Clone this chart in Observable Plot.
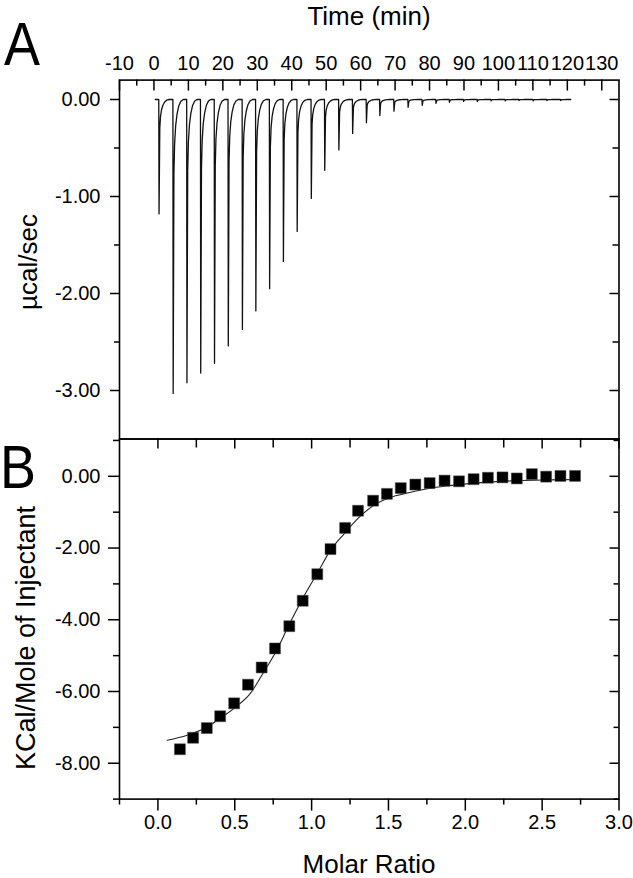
<!DOCTYPE html>
<html>
<head>
<meta charset="utf-8">
<script src="https://cdn.jsdelivr.net/npm/d3@7"></script>
<script src="https://cdn.jsdelivr.net/npm/@observablehq/plot@0.6"></script>
<style>
  html, body { margin: 0; padding: 0; background: #fff; }
  #wrap { position: relative; width: 633px; height: 878px; overflow: hidden; font-family: "Liberation Sans", Arial, sans-serif; color: #000; }
  #wrap svg { position: absolute; left: 0; }
  .lbl { position: absolute; white-space: nowrap; line-height: 1; transform: translate(-50%, -50%); }
</style>
</head>
<body>
<div id="wrap"></div>
<script>
// ---------- Panel A: raw ITC thermogram ----------
// injection times (min) and peak minima (µcal/sec)
const injTimes = [1.4, 5.5, 9.5, 13.5, 17.5, 21.5, 25.6, 29.5, 33.5, 37.5, 41.5, 45.6, 49.5, 53.6, 57.6,
                  61.6, 65.5, 69.6, 73.7, 77.8, 81.8, 85.7, 89.8, 93.8, 97.8, 101.9, 105.9, 110.0, 114.0, 118.0];
const peakMin = [-1.18, -3.03, -2.92, -2.82, -2.72, -2.54, -2.37, -2.18, -1.95, -1.67, -1.36, -1.02, -0.73, -0.52, -0.35,
                 -0.24, -0.165, -0.12, -0.08, -0.06, -0.04, -0.03, -0.02, -0.02, -0.015, -0.015, -0.01, -0.015, -0.01, -0.01];
// shape of one injection peak: time after injection (min), fraction of the peak minimum
const peakShapeOffset = [0, 0.08, 0.3, 0.5, 0.8, 1.2, 1.7, 2.3, 3.0];
const peakShapeFrac   = [0, 1, 0.25, 0.15, 0.09, 0.05, 0.022, 0.006, 0];
const traceStart = 0.4, traceEnd = 120.8;

const timeTicks = [-10, 0, 10, 20, 30, 40, 50, 60, 70, 80, 90, 100, 110, 120, 130];
const timeTickLabels = ["-10", "0", "10", "20", "30", "40", "50", "60", "70", "80", "90", "100", "110", "120", "130"];
const timeMinorTicks = [-5, 5, 15, 25, 35, 45, 55, 65, 75, 85, 95, 105, 115, 125];
const powerTicks = [0, -1, -2, -3];
const powerTickLabels = ["0.00", "-1.00", "-2.00", "-3.00"];
const powerMinorTicks = [-0.5, -1.5, -2.5];

// ---------- Panel B: integrated heats ----------
const molarRatio = [0.143, 0.229, 0.318, 0.405, 0.496, 0.586, 0.675, 0.762, 0.855, 0.942, 1.037, 1.123, 1.218, 1.302, 1.40,
                    1.49, 1.58, 1.675, 1.768, 1.865, 1.959, 2.054, 2.147, 2.242, 2.335, 2.433, 2.526, 2.619, 2.714];
const heat = [-7.61, -7.29, -7.02, -6.69, -6.33, -5.81, -5.33, -4.80, -4.18, -3.47, -2.73, -2.03, -1.44, -0.96, -0.68,
              -0.49, -0.33, -0.23, -0.19, -0.12, -0.14, -0.08, -0.04, -0.03, -0.06, 0.06, -0.01, 0.01, 0.01];
const fitRatio = [0.06, 0.19, 0.32, 0.41, 0.51, 0.60, 0.68, 0.77, 0.85, 0.94, 1.04, 1.12, 1.21, 1.31, 1.40, 1.51, 1.63,
                  1.76, 1.90, 2.12, 2.33, 2.55, 2.74];
const fitHeat = [-7.36, -7.22, -6.99, -6.73, -6.42, -6.06, -5.52, -4.87, -4.17, -3.42, -2.68, -2.08, -1.61, -1.14, -0.82,
                 -0.59, -0.46, -0.34, -0.26, -0.17, -0.12, -0.10, -0.09];

const ratioTicks = [0, 0.5, 1.0, 1.5, 2.0, 2.5, 3.0];
const ratioTickLabels = ["0.0", "0.5", "1.0", "1.5", "2.0", "2.5", "3.0"];
const ratioMinorTicks = [-0.25, 0.25, 0.75, 1.25, 1.75, 2.25, 2.75];
const heatTicks = [0, -2, -4, -6, -8];
const heatTickLabels = ["0.00", "-2.00", "-4.00", "-6.00", "-8.00"];
const heatMinorTicks = [1, -1, -3, -5, -7, -9];

// ---------- build ----------
const trace = [{t: traceStart, v: 0}];
injTimes.forEach((t0, i) => {
  peakShapeOffset.forEach((o, j) => trace.push({t: t0 + o, v: peakMin[i] * peakShapeFrac[j]}));
});
trace.push({t: traceEnd, v: 0});

const points = molarRatio.map((r, i) => ({r, h: heat[i]}));
const fit = fitRatio.map((r, i) => ({r, h: fitHeat[i]}));

const FONT = "'Liberation Sans', Arial, sans-serif";
const K = "black";
const FW = 1.6;
const FS = 20;

const xA = [-10, 135], yA = [-3.5, 0.2];
const plotA = Plot.plot({
  width: 633, height: 440,
  marginTop: 79.6, marginBottom: 1.5, marginLeft: 119, marginRight: 14.5,
  x: {domain: xA, axis: null},
  y: {domain: yA, axis: null},
  style: {fontFamily: FONT, fontSize: FS + "px", color: "black", background: "transparent", overflow: "visible"},
  marks: [
    Plot.line(trace, {x: "t", y: "v", stroke: "#111", strokeWidth: 1.3}),
    // top axis ticks (inward)
    Plot.ruleX(timeTicks, {x: d => d, y1: yA[1], y2: yA[1], insetBottom: -11, stroke: K, strokeWidth: 1.5}),
    Plot.ruleX(timeMinorTicks, {x: d => d, y1: yA[1], y2: yA[1], insetBottom: -6, stroke: K, strokeWidth: 1.5}),
    // left axis ticks (outward)
    Plot.ruleY(powerTicks, {y: d => d, x1: xA[0], x2: xA[0], insetLeft: -9, stroke: K, strokeWidth: 1.5}),
    Plot.ruleY(powerMinorTicks, {y: d => d, x1: xA[0], x2: xA[0], insetLeft: -5, stroke: K, strokeWidth: 1.5}),
    // right axis ticks (inward)
    Plot.ruleY(powerTicks, {y: d => d, x1: xA[1], x2: xA[1], insetLeft: -9, stroke: K, strokeWidth: 1.5}),
    Plot.ruleY(powerMinorTicks, {y: d => d, x1: xA[1], x2: xA[1], insetLeft: -6, stroke: K, strokeWidth: 1.5}),
    Plot.frame({stroke: K, strokeWidth: FW}),
    Plot.text(timeTickLabels, {x: (d, i) => timeTicks[i], text: d => d, frameAnchor: "top", dy: -24, fill: K, fontSize: FS}),
    Plot.text(powerTickLabels, {y: (d, i) => powerTicks[i], text: d => d, frameAnchor: "left", dx: -19, textAnchor: "end", fill: K, fontSize: FS})
  ]
});

const xB = [-0.25, 3.0], yB = [-9, 1.04];
const plotB = Plot.plot({
  width: 633, height: 440,
  marginTop: 0.5, marginBottom: 79.4, marginLeft: 119, marginRight: 14.5,
  x: {domain: xB, axis: null},
  y: {domain: yB, axis: null},
  style: {fontFamily: FONT, fontSize: FS + "px", color: "black", background: "transparent", overflow: "visible"},
  marks: [
    Plot.line(fit, {x: "r", y: "h", stroke: "#222", strokeWidth: 1.1, curve: "monotone-x"}),
    Plot.dot(points, {x: "r", y: "h", symbol: "square", r: 6.2, fill: "black", stroke: "#555", strokeWidth: 0.5}),
    // top ticks (inward)
    Plot.ruleX(ratioTicks, {x: d => d, y1: yB[1], y2: yB[1], insetBottom: -10, stroke: K, strokeWidth: 1.5}),
    Plot.ruleX(ratioMinorTicks.filter(d => d > xB[0]), {x: d => d, y1: yB[1], y2: yB[1], insetBottom: -9, stroke: K, strokeWidth: 1.5}),
    // bottom ticks (outward)
    Plot.ruleX(ratioTicks, {x: d => d, y1: yB[0], y2: yB[0], insetBottom: -12, stroke: K, strokeWidth: 1.5}),
    Plot.ruleX(ratioMinorTicks, {x: d => d, y1: yB[0], y2: yB[0], insetBottom: -6, stroke: K, strokeWidth: 1.5}),
    // left ticks (outward)
    Plot.ruleY(heatTicks, {y: d => d, x1: xB[0], x2: xB[0], insetLeft: -11, stroke: K, strokeWidth: 1.5}),
    Plot.ruleY(heatMinorTicks, {y: d => d, x1: xB[0], x2: xB[0], insetLeft: -6, stroke: K, strokeWidth: 1.5}),
    // right ticks (inward)
    Plot.ruleY(heatTicks, {y: d => d, x1: xB[1], x2: xB[1], insetLeft: -9, stroke: K, strokeWidth: 1.5}),
    Plot.ruleY(heatMinorTicks, {y: d => d, x1: xB[1], x2: xB[1], insetLeft: -5, stroke: K, strokeWidth: 1.5}),
    Plot.frame({stroke: K, strokeWidth: FW}),
    Plot.text(ratioTickLabels, {x: (d, i) => ratioTicks[i], text: d => d, frameAnchor: "bottom", dy: 29.5, fill: K, fontSize: FS}),
    Plot.text(heatTickLabels, {y: (d, i) => heatTicks[i], text: d => d, frameAnchor: "left", dx: -19, textAnchor: "end", fill: K, fontSize: FS})
  ]
});

const wrap = document.getElementById("wrap");
plotA.style.top = "0px";
plotB.style.top = "438px";
wrap.appendChild(plotA);
wrap.appendChild(plotB);

function addLabel(text, cx, cy, size, extra) {
  const d = document.createElement("div");
  d.className = "lbl";
  d.textContent = text;
  d.style.left = cx + "px";
  d.style.top = cy + "px";
  d.style.fontSize = size + "px";
  if (extra) d.style.transform = "translate(-50%, -50%) " + extra;
  wrap.appendChild(d);
}
addLabel("Time (min)", 369, 16, 26);
addLabel("Molar Ratio", 369, 864, 26);
addLabel("µcal/sec", 28, 262, 26, "rotate(-90deg)");
addLabel("KCal/Mole of Injectant", 26, 638, 27, "rotate(-90deg)");
addLabel("A", 22, 44, 62, "scaleX(0.87)");
addLabel("B", 18, 467, 62, "scaleX(0.87)");
</script>
</body>
</html>
